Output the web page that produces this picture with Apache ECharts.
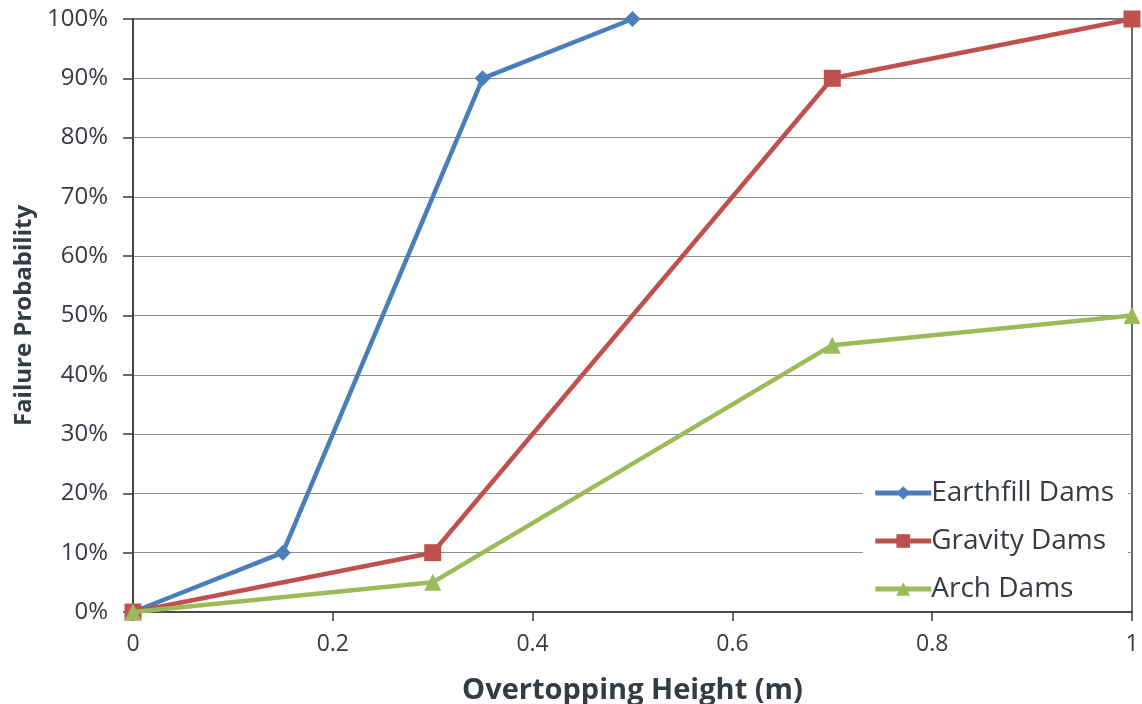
<!DOCTYPE html>
<html>
<head>
<meta charset="utf-8">
<script src="https://cdn.jsdelivr.net/npm/echarts@6/dist/echarts.min.js"></script>
<style>
  html, body { margin: 0; padding: 0; background: #fff; }
  #chart { width: 1142px; height: 704px; }
</style>
</head>
<body>
<div id="chart"></div>
<script>
// Overtopping height (m) vs. failure probability for three dam types
const earthfillHeights = [0, 0.15, 0.35, 0.5];
const earthfillProb    = [0, 0.10, 0.90, 1.00];
const gravityHeights   = [0, 0.3, 0.7, 1.0];
const gravityProb      = [0, 0.10, 0.90, 1.00];
const archHeights      = [0, 0.3, 0.7, 1.0];
const archProb         = [0, 0.05, 0.45, 0.50];
const seriesNames = ['Earthfill Dams', 'Gravity Dams', 'Arch Dams'];

const pairs = (xs, ys) => xs.map((x, i) => [x, ys[i]]);
const FONT = '"Open Sans", Lato, sans-serif';
const textColor = '#353a45';
const axisColor = '#3a3a3a';

const chart = echarts.init(document.getElementById('chart'), null, { renderer: 'canvas' });
chart.setOption({
  animation: false,
  backgroundColor: '#ffffff',
  grid: {
    left: 133, right: 10, top: 19, bottom: 92,
    containLabel: false, outerBoundsMode: 'none',
    show: true, borderColor: axisColor, borderWidth: 1.5, backgroundColor: 'transparent'
  },
  xAxis: {
    type: 'value', min: 0, max: 1, interval: 0.2,
    name: 'Overtopping Height (m)', nameLocation: 'middle', nameGap: 64,
    nameTextStyle: { fontFamily: FONT, fontSize: 29, fontWeight: 'bold', color: textColor },
    axisLine: { show: true, lineStyle: { color: axisColor, width: 1.5 } },
    axisTick: { show: true, length: 9, lineStyle: { color: axisColor, width: 1.5 } },
    axisLabel: { margin: 21, fontFamily: FONT, fontSize: 23, color: textColor },
    splitLine: { show: false }
  },
  yAxis: {
    type: 'value', min: 0, max: 1, interval: 0.1,
    name: 'Failure Probability', nameLocation: 'middle', nameGap: 97, nameRotate: 90,
    nameTextStyle: { fontFamily: FONT, fontSize: 24, fontWeight: 'bold', color: textColor },
    axisLine: { show: true, lineStyle: { color: axisColor, width: 1.5 } },
    axisTick: { show: true, length: 10, lineStyle: { color: axisColor, width: 1.5 } },
    axisLabel: {
      margin: 25, fontFamily: FONT, fontSize: 24, color: textColor,
      formatter: v => Math.round(v * 100) + '%'
    },
    splitLine: { show: true, lineStyle: { color: '#8c8c8c', width: 1.2 } }
  },
  legend: {
    orient: 'vertical', right: 14, top: 473,
    backgroundColor: '#ffffff', padding: [6, 14, 6, 10],
    itemWidth: 56, itemHeight: 17, itemGap: 20,
    lineStyle: { width: 5 },
    textStyle: { fontFamily: FONT, fontSize: 28, color: textColor, padding: [0, 0, 0, -5] },
    data: seriesNames
  },
  series: [
    {
      name: seriesNames[0], type: 'line', data: pairs(earthfillHeights, earthfillProb),
      color: '#4a7ebb', symbol: 'diamond', symbolSize: 16, showAllSymbol: true,
      lineStyle: { width: 4.5 }, z: 3
    },
    {
      name: seriesNames[1], type: 'line', data: pairs(gravityHeights, gravityProb),
      color: '#c0504d', symbol: 'rect', symbolSize: 17, showAllSymbol: true,
      lineStyle: { width: 4.5 }, z: 4
    },
    {
      name: seriesNames[2], type: 'line', data: pairs(archHeights, archProb),
      color: '#9bbb59', symbol: 'triangle', symbolSize: 17, showAllSymbol: true,
      lineStyle: { width: 4.5 }, z: 5
    }
  ]
});
</script>
</body>
</html>
